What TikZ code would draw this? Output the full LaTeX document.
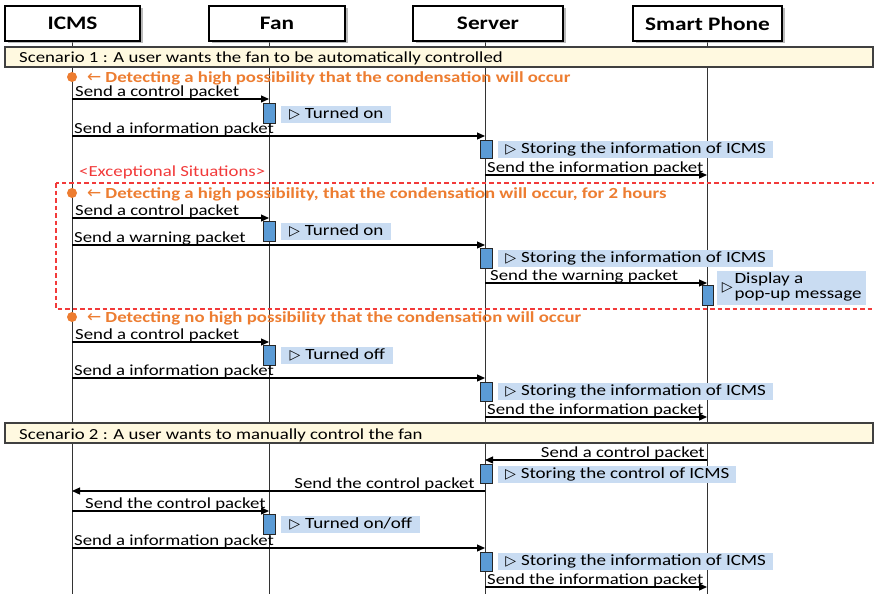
\documentclass[tikz,border=0pt]{standalone}
\usepackage{fontspec}
\setmainfont{Carlito}[FakeStretch=1.22]
\newfontfamily\symf{DejaVu Sans}
\usetikzlibrary{arrows.meta,shadows}
\definecolor{orng}{HTML}{ED7D31}
\definecolor{actblue}{HTML}{5B9BD5}
\definecolor{notebg}{HTML}{C9DCF2}
\definecolor{scenbg}{HTML}{FFF9E0}
\definecolor{exred}{HTML}{F23A3A}
\newcommand{\tri}{{\symf\fontsize{14}{14}\selectfont ▷}\hspace{5pt}}
\newcommand{\larr}{{\symf\fontsize{17}{17}\selectfont\mdseries ←}\hspace{4pt}}
\tikzset{
  hdr/.style={draw=black, line width=1.2pt, fill=white, inner sep=0pt,
    font=\fontsize{19.1}{20}\selectfont\bfseries,
    drop shadow={shadow xshift=2.5pt, shadow yshift=-2.5pt, fill=black!45, opacity=0.6}},
  life/.style={draw=black!80, line width=1pt},
  scen/.style={draw=black!75, line width=1.3pt, fill=scenbg},
  msgt/.style={inner sep=0pt, font=\fontsize{15.4}{16}\selectfont},
  msg/.style={line width=1.2pt, -{Triangle[length=8pt,width=7pt]}},
  act/.style={draw=black!85, line width=0.9pt, fill=actblue},
  note/.style={fill=notebg, inner xsep=9pt, inner ysep=0pt, minimum height=17pt,
    anchor=west, font=\fontsize{15.6}{16}\selectfont},
  otext/.style={inner sep=0pt, text=orng, font=\fontsize{15.4}{16}\selectfont\bfseries},
  odot/.style={fill=orng, circle, minimum size=10pt, inner sep=0pt},
}
\begin{document}
\begin{tikzpicture}[x=1pt,y=-1pt]
\useasboundingbox (0,0) rectangle (874,594);
\fill[white] (0,0) rectangle (874,594);
% lifelines
\coordinate (It) at (72,41);  \coordinate (Ib) at (72,594);
\coordinate (Ft) at (269,41); \coordinate (Fb) at (269,594);
\coordinate (St) at (485,41); \coordinate (Sb) at (485,594);
\coordinate (Pt) at (707,41); \coordinate (Pb) at (707,594);
\draw[life] (It) -- (Ib);
\draw[life] (Ft) -- (Fb);
\draw[life] (St) -- (Sb);
\draw[life] (Pt) -- (Pb);
% headers
\node[hdr, minimum width=135pt, minimum height=35pt] (hI) at (72.5,23.5) {ICMS};
\node[hdr, minimum width=136pt, minimum height=35pt] (hF) at (277,23.5) {Fan};
\node[hdr, minimum width=150pt, minimum height=35pt] (hS) at (488,23.5) {Server};
\node[hdr, minimum width=149pt, minimum height=35pt] (hP) at (707.5,23.5) {Smart Phone};
% scenario bars
\draw[scen] (5,47) rectangle (873,67);
\node[msgt, anchor=base west] (sc1) at (19,63) {Scenario 1 : A user wants the fan to be automatically controlled};
\draw[scen] (5,423) rectangle (873,443);
\node[msgt, anchor=base west] (sc2) at (19,439) {Scenario 2 : A user wants to manually control the fan};
% exceptional
\node[msgt, anchor=base west, text=exred] (ex) at (79,176) {<Exceptional Situations>};
\draw[exred, line width=1.2pt, dash pattern=on 4.5pt off 3pt] (56,183) rectangle (880,309);
% orange detection rows
\node[odot] (d1) at (72,77) {};
\node[otext, anchor=base west] (o1) at (87,82) {\larr Detecting a high possibility that the condensation will occur};
\node[odot] (d2) at (72,193) {};
\node[otext, anchor=base west] (o2) at (87,198) {\larr Detecting a high possibility, that the condensation will occur, for 2 hours};
\node[odot] (d3) at (72,317) {};
\node[otext, anchor=base west] (o3) at (87,322) {\larr Detecting no high possibility that the condensation will occur};
% activations
\draw[act] (263,103) rectangle (275,123);
\draw[act] (263,221) rectangle (275,241);
\draw[act] (263,345) rectangle (275,365);
\draw[act] (263,514) rectangle (275,534);
\draw[act] (480,140) rectangle (492,158);
\draw[act] (480,248) rectangle (492,268);
\draw[act] (480,382) rectangle (492,401);
\draw[act] (480,464) rectangle (492,483);
\draw[act] (480,552) rectangle (492,571);
\draw[act] (702,285) rectangle (713,305);
% notes
\node[note, inner xsep=0pt, minimum width=110pt] (n1) at (281,114) {\tri Turned on\hspace{4pt}};
\node[note, inner xsep=0pt, minimum width=275pt] (n2) at (498,149) {\tri Storing the information of ICMS\hspace{4pt}};
\node[note, inner xsep=0pt, minimum width=110pt] (n3) at (281,231) {\tri Turned on\hspace{4pt}};
\node[note, inner xsep=0pt, minimum width=275pt] (n4) at (498,258) {\tri Storing the information of ICMS\hspace{4pt}};
\node[note, inner xsep=3pt, inner ysep=1.5pt, minimum width=149pt] (n5) at (717,288) {{\symf\fontsize{14}{14}\selectfont ▷}\hspace{2pt}\begin{tabular}{@{}l@{}}Display a\\[-1pt]pop-up message\end{tabular}};
\node[note, inner xsep=0pt, minimum width=112pt] (n6) at (281,355) {\tri Turned off\hspace{4pt}};
\node[note, inner xsep=0pt, minimum width=275pt] (n7) at (498,391) {\tri Storing the information of ICMS\hspace{4pt}};
\node[note, inner xsep=0pt, minimum width=238pt] (n8) at (498,474) {\tri Storing the control of ICMS\hspace{4pt}};
\node[note, inner xsep=0pt, minimum width=139pt] (n9) at (281,524) {\tri Turned on/off\hspace{4pt}};
\node[note, inner xsep=0pt, minimum width=275pt] (n10) at (498,561) {\tri Storing the information of ICMS\hspace{4pt}};
% message endpoints
\path (72,99) coordinate (a1) (269,99) coordinate (b1)
      (72,136) coordinate (a2) (485,136) coordinate (b2)
      (485,175) coordinate (a3) (707,175) coordinate (b3)
      (72,218) coordinate (a4) (269,218) coordinate (b4)
      (72,245) coordinate (a5) (485,245) coordinate (b5)
      (485,283) coordinate (a6) (707,283) coordinate (b6)
      (72,342) coordinate (a7) (269,342) coordinate (b7)
      (72,378) coordinate (a8) (485,378) coordinate (b8)
      (485,417) coordinate (a9) (707,417) coordinate (b9)
      (707,460) coordinate (a10) (485,460) coordinate (b10)
      (485,491) coordinate (a11) (72,491) coordinate (b11)
      (72,511) coordinate (a12) (269,511) coordinate (b12)
      (72,548) coordinate (a13) (485,548) coordinate (b13)
      (485,587) coordinate (a14) (707,587) coordinate (b14);
\draw[msg] (a1) -- (b1);
\draw[msg] (a2) -- (b2);
\draw[msg] (a3) -- (b3);
\draw[msg] (a4) -- (b4);
\draw[msg] (a5) -- (b5);
\draw[msg] (a6) -- (b6);
\draw[msg] (a7) -- (b7);
\draw[msg] (a8) -- (b8);
\draw[msg] (a9) -- (b9);
\draw[msg] (a10) -- (b10);
\draw[msg] (a11) -- (b11);
\draw[msg] (a12) -- (b12);
\draw[msg] (a13) -- (b13);
\draw[msg] (a14) -- (b14);
% message labels
\node[msgt, anchor=base west] (l1) at (75,96) {Send a control packet};
\node[msgt, anchor=base west] (l2) at (74,133) {Send a information packet};
\node[msgt, anchor=base west] (l3) at (487,172) {Send the information packet};
\node[msgt, anchor=base west] (l4) at (75,215) {Send a control packet};
\node[msgt, anchor=base west] (l5) at (74,242) {Send a warning packet};
\node[msgt, anchor=base west] (l6) at (490,280) {Send the warning packet};
\node[msgt, anchor=base west] (l7) at (75,339) {Send a control packet};
\node[msgt, anchor=base west] (l8) at (74,375) {Send a information packet};
\node[msgt, anchor=base west] (l9) at (487,414) {Send the information packet};
\node[msgt, anchor=base east] (l10) at (705,457) {Send a control packet};
\node[msgt, anchor=base east] (l11) at (475,488) {Send the control packet};
\node[msgt, anchor=base west] (l12) at (85,508) {Send the control packet};
\node[msgt, anchor=base west] (l13) at (74,545) {Send a information packet};
\node[msgt, anchor=base west] (l14) at (487,584) {Send the information packet};
\end{tikzpicture}
\end{document}
